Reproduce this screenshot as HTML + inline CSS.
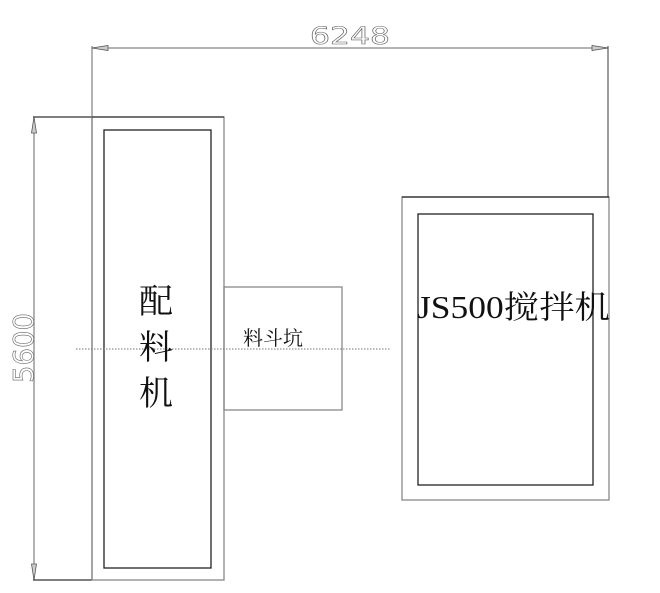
<!DOCTYPE html>
<html><head><meta charset="utf-8"><style>
html,body{margin:0;padding:0;background:#fff;}
svg{display:block;}
</style></head><body>
<svg width="660" height="593" viewBox="0 0 660 593" xmlns="http://www.w3.org/2000/svg">
<g fill="none" stroke-width="1.3">
<line x1="92" y1="48" x2="608" y2="48" stroke="#888"/>
<line x1="92" y1="46" x2="92" y2="580" stroke="#888"/>
<line x1="608" y1="46" x2="608" y2="197" stroke="#666"/>
<polygon points="92,48 108,45.5 108,50.5" fill="#ccc" stroke="#555" stroke-width="0.8"/>
<polygon points="608,48 592,45.5 592,50.5" fill="#ccc" stroke="#555" stroke-width="0.8"/>
<line x1="34" y1="117" x2="34" y2="580" stroke="#888"/>
<line x1="33" y1="117" x2="92" y2="117" stroke="#333"/>
<line x1="33" y1="580" x2="92" y2="580" stroke="#333"/>
<polygon points="34,117 31.5,133 36.5,133" fill="#ccc" stroke="#555" stroke-width="0.8"/>
<polygon points="34,580 31.5,564 36.5,564" fill="#ccc" stroke="#555" stroke-width="0.8"/>
<rect x="92" y="117" width="132" height="463" stroke="#888"/>
<line x1="92" y1="117" x2="224" y2="117" stroke="#333"/>
<rect x="104" y="130" width="107" height="438" stroke="#222"/>
<rect x="224" y="287" width="118" height="123" stroke="#888"/>
<rect x="402" y="197" width="207" height="303" stroke="#888"/>
<line x1="402" y1="197" x2="609" y2="197" stroke="#222"/>
<rect x="418" y="214" width="175" height="271" stroke="#222"/>
<line x1="76" y1="349" x2="390" y2="349" stroke="#777" stroke-width="1" stroke-dasharray="1.5,1.5"/>
</g>
<g font-family="'DejaVu Sans','Liberation Sans',sans-serif" fill="#fff" stroke="#666" stroke-width="0.6">
<text x="350" y="44" font-size="24" text-anchor="middle" textLength="80" lengthAdjust="spacingAndGlyphs">6248</text>
<text transform="translate(33,348) rotate(-90)" font-size="28" text-anchor="middle" textLength="70" lengthAdjust="spacingAndGlyphs">5600</text>
</g>
<g font-family="'Liberation Serif','Noto Serif CJK SC',serif" fill="#111">
<text x="139" y="313" font-size="34">配</text>
<text x="139" y="359" font-size="34">料</text>
<text x="139" y="405" font-size="34">机</text>
<text x="243" y="345" font-size="20">料斗坑</text>
<text x="417" y="318" font-size="32" textLength="193" lengthAdjust="spacingAndGlyphs">JS500搅拌机</text>
</g>
</svg>
</body></html>
